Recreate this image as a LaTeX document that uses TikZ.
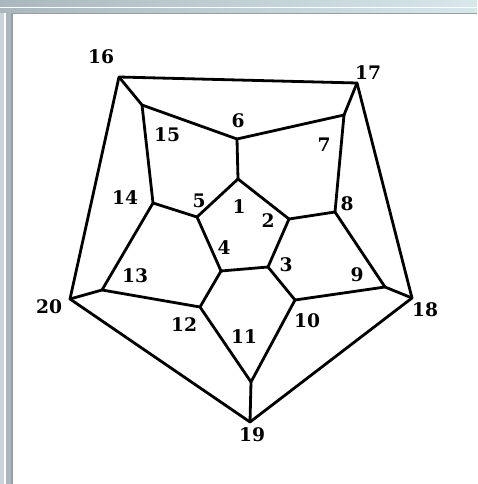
\documentclass[tikz,border=0pt]{standalone}
\usepackage{fontspec}
\usepackage{tikz}
\usetikzlibrary{positioning, calc}

\newfontfamily\numfont{DejaVu Serif}

\definecolor{framebar}{HTML}{A9B8BF}
\definecolor{framelight}{HTML}{D6E7EE}
\definecolor{frameline}{HTML}{9B9EA1}

\tikzset{
    edge/.style={line width=2.1pt, line cap=round, line join=round},
    lbl/.style={inner sep=0pt, font=\numfont\fontsize{14}{16}\selectfont\bfseries},
}

\begin{document}
\begin{tikzpicture}[x=0.75pt, y=-0.75pt]

    \useasboundingbox (0,0) rectangle (477,484);

    % --- Window frame ---
    \shade[left color=framebar, right color=framelight] (0,0) rectangle (477,13);
    \fill[white] (0,7) rectangle (477,8);
    \fill[frameline] (11,13) rectangle (477,14.5);
    \fill[framebar!60] (0,13) rectangle (4,484);
    \fill[white] (4,13) rectangle (6,484);
    \fill[framebar] (6,13) rectangle (11,484);
    \fill[frameline] (11,13) rectangle (13,484);

    % --- Vertices ---
    \coordinate (v1) at (238,179);
    \coordinate (v2) at (289,219);
    \coordinate (v3) at (268,267);
    \coordinate (v4) at (221,271);
    \coordinate (v5) at (197,217);
    \coordinate (v6) at (237,139);
    \coordinate (v7) at (344,115);
    \coordinate (v8) at (335,212);
    \coordinate (v9) at (385,287);
    \coordinate (v10) at (295,300);
    \coordinate (v11) at (251,382);
    \coordinate (v12) at (200,307);
    \coordinate (v13) at (102,290);
    \coordinate (v14) at (153,203);
    \coordinate (v15) at (142,105);
    \coordinate (v16) at (119,77);
    \coordinate (v17) at (357,83);
    \coordinate (v18) at (412,298);
    \coordinate (v19) at (250,422);
    \coordinate (v20) at (70,299);

    % --- Outer pentagon ---
    \draw[edge] (v16) -- (v17) -- (v18) -- (v19) -- (v20) -- cycle;

    % --- Inner pentagon ---
    \draw[edge] (v1) -- (v2) -- (v3) -- (v4) -- (v5) -- cycle;

    % --- Middle ring ---
    \draw[edge] (v15) -- (v6) -- (v7) -- (v8) -- (v9) -- (v10)
        -- (v11) -- (v12) -- (v13) -- (v14) -- cycle;

    % --- Spokes ---
    \draw[edge] (v6) -- (v1);
    \draw[edge] (v8) -- (v2);
    \draw[edge] (v10) -- (v3);
    \draw[edge] (v12) -- (v4);
    \draw[edge] (v14) -- (v5);
    \draw[edge] (v15) -- (v16);
    \draw[edge] (v7) -- (v17);
    \draw[edge] (v9) -- (v18);
    \draw[edge] (v11) -- (v19);
    \draw[edge] (v13) -- (v20);

    % --- Labels ---
    \node[lbl] (l1) at (239,207) {1};
    \node[lbl] (l2) at (268,221) {2};
    \node[lbl] (l3) at (286,265) {3};
    \node[lbl] (l4) at (224,248) {4};
    \node[lbl] (l5) at (199,201) {5};
    \node[lbl] (l6) at (238,121) {6};
    \node[lbl] (l7) at (324,145) {7};
    \node[lbl] (l8) at (347,204) {8};
    \node[lbl] (l9) at (357,275) {9};
    \node[lbl] (l10) at (307,321) {10};
    \node[lbl] (l11) at (244,337) {11};
    \node[lbl] (l12) at (184,325) {12};
    \node[lbl] (l13) at (135,276) {13};
    \node[lbl] (l14) at (125,198) {14};
    \node[lbl] (l15) at (167,135) {15};
    \node[lbl] (l16) at (101,57) {16};
    \node[lbl] (l17) at (368,73) {17};
    \node[lbl] (l18) at (425,310) {18};
    \node[lbl] (l19) at (252,435) {19};
    \node[lbl] (l20) at (49,307) {20};

\end{tikzpicture}
\end{document}
